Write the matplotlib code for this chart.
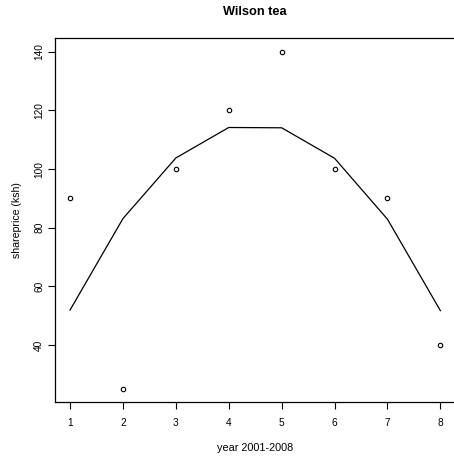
import matplotlib
matplotlib.use("Agg")
import matplotlib.pyplot as plt

plt.rcParams['font.family'] = ['Liberation Sans', 'DejaVu Sans']

# data: yearly share price and the fitted curve
years = [1, 2, 3, 4, 5, 6, 7, 8]
shareprice = [90, 25, 100, 120, 140, 100, 90, 40]
fitted = [51.9, 83.1, 103.8, 114.2, 114.1, 103.7, 82.9, 51.7]
xticks = [1, 2, 3, 4, 5, 6, 7, 8]
yticks = [40, 60, 80, 100, 120, 140]

fig = plt.figure(figsize=(4.54, 4.57), dpi=100)
ax = fig.add_axes([55.2 / 454, (457 - 402.4) / 457, 400 / 454, 364 / 457])

ax.plot(years, shareprice, 'o', mfc='white', mec='black', ms=3.2, mew=0.8)
ax.plot(years, fitted, '-', color='black', lw=0.9)

ax.set_xlim(0.72, 8.28)
ax.set_ylim(20.4, 144.6)
ax.set_xticks(xticks)
ax.set_yticks(yticks)
ax.set_yticklabels([str(v) for v in yticks], rotation=90, va='center')
ax.tick_params(labelsize=7.3, length=5, width=0.8)
ax.tick_params(axis='x', pad=6)
ax.tick_params(axis='y', pad=3)

for s in ax.spines.values():
    s.set_linewidth(0.9)
ax.spines['right'].set_visible(False)  # box edge falls just outside the image

ax.set_title('Wilson tea', fontsize=9.2, fontweight='bold', pad=17)
ax.set_xlabel('year 2001-2008', fontsize=7.8, labelpad=11)
ax.set_ylabel('shareprice (ksh)', fontsize=7.6, labelpad=9)

fig.savefig('out.png', dpi=100)
